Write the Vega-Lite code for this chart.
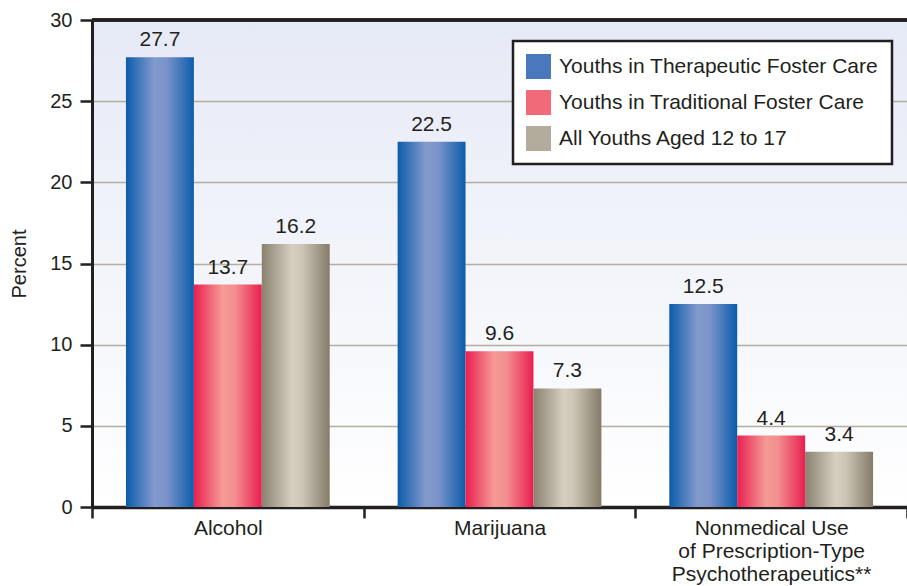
{
  "$schema": "https://vega.github.io/schema/vega-lite/v6.json",
  "autosize": "none",
  "padding": {"left": 92, "top": 20, "right": 0, "bottom": 79},
  "width": 815,
  "height": 487,
  "background": "white",
  "config": {
    "font": "Liberation Sans",
    "view": {
      "stroke": null,
      "fill": {"gradient": "linear", "x1": 0, "y1": 0, "x2": 0, "y2": 1,
        "stops": [{"offset": 0, "color": "#e6eaf6"}, {"offset": 1, "color": "#ffffff"}]}
    },
    "axis": {
      "labelColor": "#231f20", "titleColor": "#231f20", "labelFont": "Liberation Sans", "titleFont": "Liberation Sans",
      "domainColor": "#231f20", "tickColor": "#231f20"
    },
    "legend": {"strokeWidth": 2.5}
  },
  "datasets": {
    "main": [
      {"category": "Alcohol", "group": "Youths in Therapeutic Foster Care", "value": 27.7},
      {"category": "Alcohol", "group": "Youths in Traditional Foster Care", "value": 13.7},
      {"category": "Alcohol", "group": "All Youths Aged 12 to 17", "value": 16.2},
      {"category": "Marijuana", "group": "Youths in Therapeutic Foster Care", "value": 22.5},
      {"category": "Marijuana", "group": "Youths in Traditional Foster Care", "value": 9.6},
      {"category": "Marijuana", "group": "All Youths Aged 12 to 17", "value": 7.3},
      {"category": "Nonmedical Use|of Prescription-Type|Psychotherapeutics**", "group": "Youths in Therapeutic Foster Care", "value": 12.5},
      {"category": "Nonmedical Use|of Prescription-Type|Psychotherapeutics**", "group": "Youths in Traditional Foster Care", "value": 4.4},
      {"category": "Nonmedical Use|of Prescription-Type|Psychotherapeutics**", "group": "All Youths Aged 12 to 17", "value": 3.4}
    ]
  },
  "data": {"name": "main"},
  "layer": [
    {
      "mark": {"type": "bar"},
      "encoding": {
        "x": {
          "field": "category", "type": "nominal", "sort": null,
          "scale": {"paddingInner": 0, "paddingOuter": 0},
          "axis": {
            "title": null, "labelAngle": 0, "labelFontSize": 21, "labelPadding": -1,
            "labelExpr": "split(datum.label, '|')", "labelLineHeight": 23,
            "tickBand": "extent", "tickSize": 11, "tickWidth": 2.5, "domainWidth": 3.5,
            "labelLimit": 400
          }
        },
        "xOffset": {
          "field": "group", "type": "nominal",
          "sort": ["Youths in Therapeutic Foster Care", "Youths in Traditional Foster Care", "All Youths Aged 12 to 17"],
          "scale": {"paddingInner": 0, "paddingOuter": 0.5}
        },
        "y": {
          "field": "value", "type": "quantitative",
          "scale": {"domain": [0, 30], "nice": false},
          "axis": {
            "title": "Percent", "titleFontSize": 20, "titleFontWeight": "normal", "titlePadding": 20,
            "values": [0, 5, 10, 15, 20, 25, 30], "labelFontSize": 20, "labelPadding": 8,
            "tickSize": 12, "tickWidth": 2.5, "domainWidth": 3,
            "grid": true, "gridColor": "#b5ad9f", "gridWidth": 1.5
          }
        },
        "color": {
          "field": "group", "type": "nominal",
          "scale": {
            "domain": ["Youths in Therapeutic Foster Care", "Youths in Traditional Foster Care", "All Youths Aged 12 to 17"],
            "range": ["#4a78bd", "#f06a7a", "#b3ac9c"]
          },
          "condition": [
            {"test": "datum.group === 'Youths in Therapeutic Foster Care'",
             "value": {"gradient": "linear", "x1": 0, "y1": 0, "x2": 1, "y2": 0,
               "stops": [{"offset": 0, "color": "#0b5cab"}, {"offset": 0.42, "color": "#849acd"}, {"offset": 0.6, "color": "#7a93c9"}, {"offset": 1, "color": "#0b5cab"}]}},
            {"test": "datum.group === 'Youths in Traditional Foster Care'",
             "value": {"gradient": "linear", "x1": 0, "y1": 0, "x2": 1, "y2": 0,
               "stops": [{"offset": 0, "color": "#ea1f50"}, {"offset": 0.42, "color": "#f59a95"}, {"offset": 0.6, "color": "#f38f8f"}, {"offset": 1, "color": "#e91e50"}]}},
            {"test": "datum.group === 'All Youths Aged 12 to 17'",
             "value": {"gradient": "linear", "x1": 0, "y1": 0, "x2": 1, "y2": 0,
               "stops": [{"offset": 0, "color": "#8a826f"}, {"offset": 0.45, "color": "#d6d0c2"}, {"offset": 0.6, "color": "#cbc5b6"}, {"offset": 1, "color": "#847b68"}]}}
          ],
          "legend": {
            "title": null, "orient": "none", "legendX": 421, "legendY": 21,
            "fillColor": "white", "strokeColor": "#231f20",
            "padding": 13, "symbolType": "square", "symbolSize": 625, "symbolStrokeWidth": 0,
            "labelFontSize": 21, "labelColor": "#231f20", "labelFont": "Liberation Sans", "labelLimit": 500, "labelOffset": 8, "rowPadding": 11
          }
        }
      }
    },
    {
      "mark": {"type": "text", "baseline": "alphabetic", "dy": -11, "fontSize": 21, "color": "#231f20", "font": "Liberation Sans"},
      "encoding": {
        "x": {"field": "category", "type": "nominal", "sort": null},
        "xOffset": {"field": "group", "type": "nominal",
          "sort": ["Youths in Therapeutic Foster Care", "Youths in Traditional Foster Care", "All Youths Aged 12 to 17"]},
        "y": {"field": "value", "type": "quantitative"},
        "text": {"field": "value", "type": "quantitative", "format": ".1f"}
      }
    },
    {
      "mark": {"type": "rule", "color": "#231f20", "strokeWidth": 2.5},
      "encoding": {"y": {"datum": 30}}
    }
  ]
}
